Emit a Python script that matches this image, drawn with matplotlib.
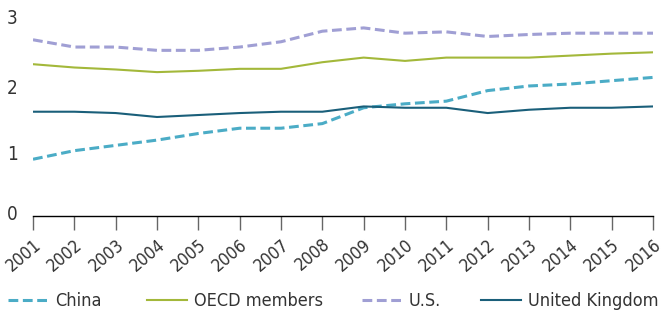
import matplotlib.pyplot as plt
import matplotlib.transforms as mtransforms
from matplotlib.lines import Line2D

years = list(range(2001, 2017))
china = [0.86, 0.99, 1.07, 1.15, 1.25, 1.33, 1.33, 1.40, 1.64, 1.70, 1.74, 1.90, 1.97, 2.00, 2.05, 2.10]
oecd = [2.30, 2.25, 2.22, 2.18, 2.20, 2.23, 2.23, 2.33, 2.40, 2.35, 2.40, 2.40, 2.40, 2.43, 2.46, 2.48]
us = [2.67, 2.56, 2.56, 2.51, 2.51, 2.56, 2.64, 2.80, 2.85, 2.77, 2.79, 2.72, 2.75, 2.77, 2.77, 2.77]
uk = [1.58, 1.58, 1.56, 1.50, 1.53, 1.56, 1.58, 1.58, 1.66, 1.64, 1.64, 1.56, 1.61, 1.64, 1.64, 1.66]

names = ['China', 'OECD members', 'U.S.', 'United Kingdom']
colors = ['#4bacc6', '#a3b83a', '#a09fd4', '#1a5f7a']
styles = [(0, (3.2, 1.5)), '-', (0, (3.2, 1.5)), '-']
widths = [2.2, 1.5, 2.2, 1.5]

plt.rcParams['font.family'] = ['DejaVu Sans']
plt.rcParams['font.stretch'] = 'condensed'
text_color = '#333333'

fig = plt.figure(figsize=(6.65, 3.13), dpi=100)
ax = fig.add_axes([33 / 665, 97 / 313, 620 / 665, 198 / 313])

for vals, name, c, ls, lw in zip([china, oecd, us, uk], names, colors, styles, widths):
    ax.plot(years, vals, color=c, lw=lw, ls=ls, label=name)

ax.set_xlim(2001, 2016)
ax.set_ylim(0, 3)
ax.set_yticks([0, 1, 2, 3])
ax.set_xticks(years)
ax.set_xticklabels([str(y) for y in years], rotation=40, ha='right', rotation_mode='anchor')

ax.tick_params(axis='y', length=0, pad=15, labelsize=13.5, labelcolor=text_color)
ax.tick_params(axis='x', length=10, width=1, color='#666666', pad=4,
               labelsize=12.5, labelcolor=text_color)
# the labels in the original sit a little off their gridline values
nudges = [4, -3, -2, 2]
for lab, dy in zip(ax.get_yticklabels(), nudges):
    lab.set_horizontalalignment('center')
    shift = mtransforms.ScaledTranslation(0, dy / 100, fig.dpi_scale_trans)
    lab.set_transform(lab.get_transform() + shift)

ax.spines[['left', 'top', 'right']].set_visible(False)
ax.spines['bottom'].set_color('black')
ax.spines['bottom'].set_linewidth(1)

# legend entries placed one by one across the bottom
leg_x = [8, 147, 362, 481]
for x, name, c, ls, lw in zip(leg_x, names, colors, styles, widths):
    h = Line2D([], [], color=c, ls=ls, lw=lw)
    leg = fig.legend([h], [name], loc='center left', bbox_to_anchor=(x / 665, 12 / 313),
                     frameon=False, fontsize=13, handlelength=2.2, handletextpad=0.4,
                     borderpad=0, borderaxespad=0)
    for t in leg.get_texts():
        t.set_color(text_color)

fig.savefig('out.png', dpi=100)
